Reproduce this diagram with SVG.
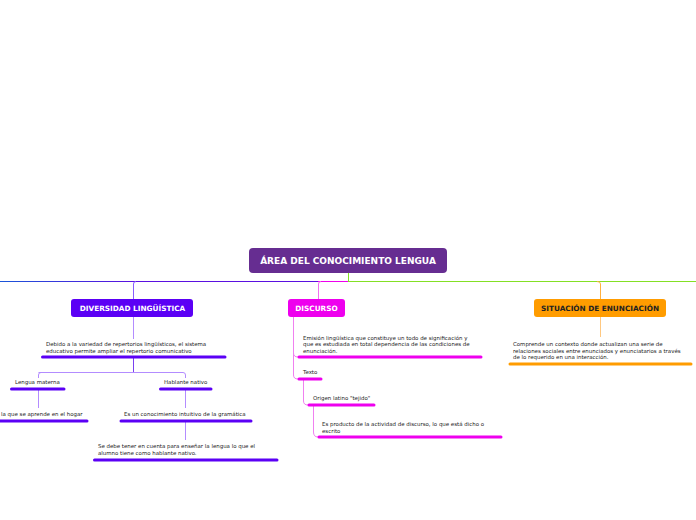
<svg xmlns="http://www.w3.org/2000/svg" width="696" height="520" viewBox="0 0 696 520">
<defs>
<linearGradient id="gl" gradientUnits="userSpaceOnUse" x1="0" y1="281" x2="133" y2="281">
<stop offset="0" stop-color="#1a55d8"/>
<stop offset="1" stop-color="#5a10e0"/>
</linearGradient>
</defs>
<style>
.t{font-family:"DejaVu Sans",Verdana,sans-serif;font-size:5.45px;fill:#222222}
.h{font-family:"DejaVu Sans",Verdana,sans-serif;font-weight:bold;font-size:7.3px;fill:#ffffff;text-anchor:middle}
.c{fill:none;stroke-width:1}
.u{fill:none;stroke-width:3;stroke-linecap:round}
.pv{stroke:#5b00f5}
.mg{stroke:#ee00ee}
.or{stroke:#ff9c00}
</style>
<rect width="696" height="520" fill="#ffffff"/>
<g id="connectors">
<rect x="0" y="281" width="133" height="1" fill="url(#gl)"/>
<rect x="133" y="281" width="185" height="1" fill="#5a10e0"/>
<rect x="318" y="281" width="30" height="1" fill="#ee00ee"/>
<rect x="348" y="281" width="348" height="1" fill="#84e024"/>
<rect x="348" y="273" width="1" height="8" fill="#84e024"/>
<path class="c" d="M136 281.5 Q133.5 281.5 133.5 284 L133.5 299" stroke="#8a5cff"/>
<path class="c" d="M321 281.5 Q318.5 281.5 318.5 284 L318.5 299" stroke="#f070f0"/>
<path class="c" d="M597 281.5 Q600.5 281.5 600.5 284 L600.5 299" stroke="#ffb040"/>
<path class="c" d="M133.5 317 L133.5 339" stroke="#b38cff"/>
<path class="c" d="M133.5 357 L133.5 372" stroke="#7a40f0"/>
<path class="c" d="M41 372.5 Q38.5 372.5 38.5 375 L38.5 378 M38.5 372.5 L183 372.5 Q185.5 372.5 185.5 375 L185.5 378" stroke="#b38cff"/>
<path class="c" d="M38.5 389 L38.5 408" stroke="#b38cff"/>
<path class="c" d="M185.5 389 L185.5 408" stroke="#b38cff"/>
<path class="c" d="M185.5 421 L185.5 440" stroke="#b38cff"/>
<path class="c" d="M293.5 317 L293.5 353 Q293.5 357 298 357" stroke="#f080f0"/>
<path class="c" d="M293.5 353 L293.5 375 Q293.5 379 298 379" stroke="#f080f0"/>
<path class="c" d="M303.5 379 L303.5 401 Q303.5 405 308 405" stroke="#f080f0"/>
<path class="c" d="M313.5 405 L313.5 432 Q313.5 437 318 437" stroke="#f080f0"/>
<path class="c" d="M600.5 317 L600.5 337" stroke="#ffc880"/>
</g>
<g id="root">
<rect x="249" y="248" width="198" height="25" rx="4" fill="#662d91"/>
<text class="h" x="348" y="264" style="font-size:9px">ÁREA DEL CONOCIMIENTO LENGUA</text>
</g>
<g id="diversidad">
<rect x="71" y="299" width="122" height="18" rx="3" fill="#5b00f5"/>
<text class="h" x="132.5" y="310.5">DIVERSIDAD LINGÜÍSTICA</text>
</g>
<g id="discurso">
<rect x="288" y="299" width="57" height="18" rx="3" fill="#ee00ee"/>
<text class="h" x="316.5" y="310.5">DISCURSO</text>
</g>
<g id="situacion">
<rect x="534" y="299" width="132" height="18" rx="3" fill="#ff9c00"/>
<text class="h" x="600" y="310.5" style="fill:#222222">SITUACIÓN DE ENUNCIACIÓN</text>
</g>
<g id="debido">
<text class="t" x="46" y="346">Debido a la variedad de repertorios lingüísticos, el sistema</text>
<text class="t" x="46" y="352.5">educativo permite ampliar el repertorio comunicativo</text>
<line class="u pv" x1="42.5" y1="357" x2="225" y2="357"/>
</g>
<g id="lengua-materna">
<text class="t" x="15" y="384">Lengua materna</text>
<line class="u pv" x1="11.5" y1="389" x2="64" y2="389"/>
</g>
<g id="hablante-nativo">
<text class="t" x="164" y="384">Hablante nativo</text>
<line class="u pv" x1="160.5" y1="389" x2="211" y2="389"/>
</g>
<g id="hogar">
<text class="t" x="1" y="415.5">la que se aprende en el hogar</text>
<line class="u pv" x1="0" y1="421" x2="87" y2="421"/>
</g>
<g id="intuitivo">
<text class="t" x="124" y="415.5">Es un conocimiento intuitivo de la gramática</text>
<line class="u pv" x1="121" y1="421" x2="251" y2="421"/>
</g>
<g id="ensenar">
<text class="t" x="98" y="448">Se debe tener en cuenta para enseñar la lengua lo que el</text>
<text class="t" x="98" y="454.5">alumno tiene como hablante nativo.</text>
<line class="u pv" x1="94.5" y1="460" x2="277" y2="460"/>
</g>
<g id="emision">
<text class="t" x="303" y="339.5">Emisión lingüística que constituye un todo de significación y</text>
<text class="t" x="303" y="346">que es estudiada en total dependencia de las condiciones de</text>
<text class="t" x="303" y="352.5">enunciación.</text>
<line class="u mg" x1="299" y1="357" x2="481" y2="357"/>
</g>
<g id="texto">
<text class="t" x="303" y="374">Texto</text>
<line class="u mg" x1="299" y1="379" x2="321" y2="379"/>
</g>
<g id="origen">
<text class="t" x="313" y="400">Origen latino "tejido"</text>
<line class="u mg" x1="309" y1="405" x2="374" y2="405"/>
</g>
<g id="producto">
<text class="t" x="322" y="426">Es producto de la actividad de discurso, lo que está dicho o</text>
<text class="t" x="322" y="432.5">escrito</text>
<line class="u mg" x1="319" y1="437" x2="501" y2="437"/>
</g>
<g id="comprende">
<text class="t" x="513" y="346">Comprende un contexto donde actualizan una serie de</text>
<text class="t" x="513" y="352.5">relaciones sociales entre enunciados y enunciatarios a través</text>
<text class="t" x="513" y="359">de lo requerido en una interacción.</text>
<line class="u or" x1="510" y1="364" x2="691" y2="364"/>
</g>
</svg>
